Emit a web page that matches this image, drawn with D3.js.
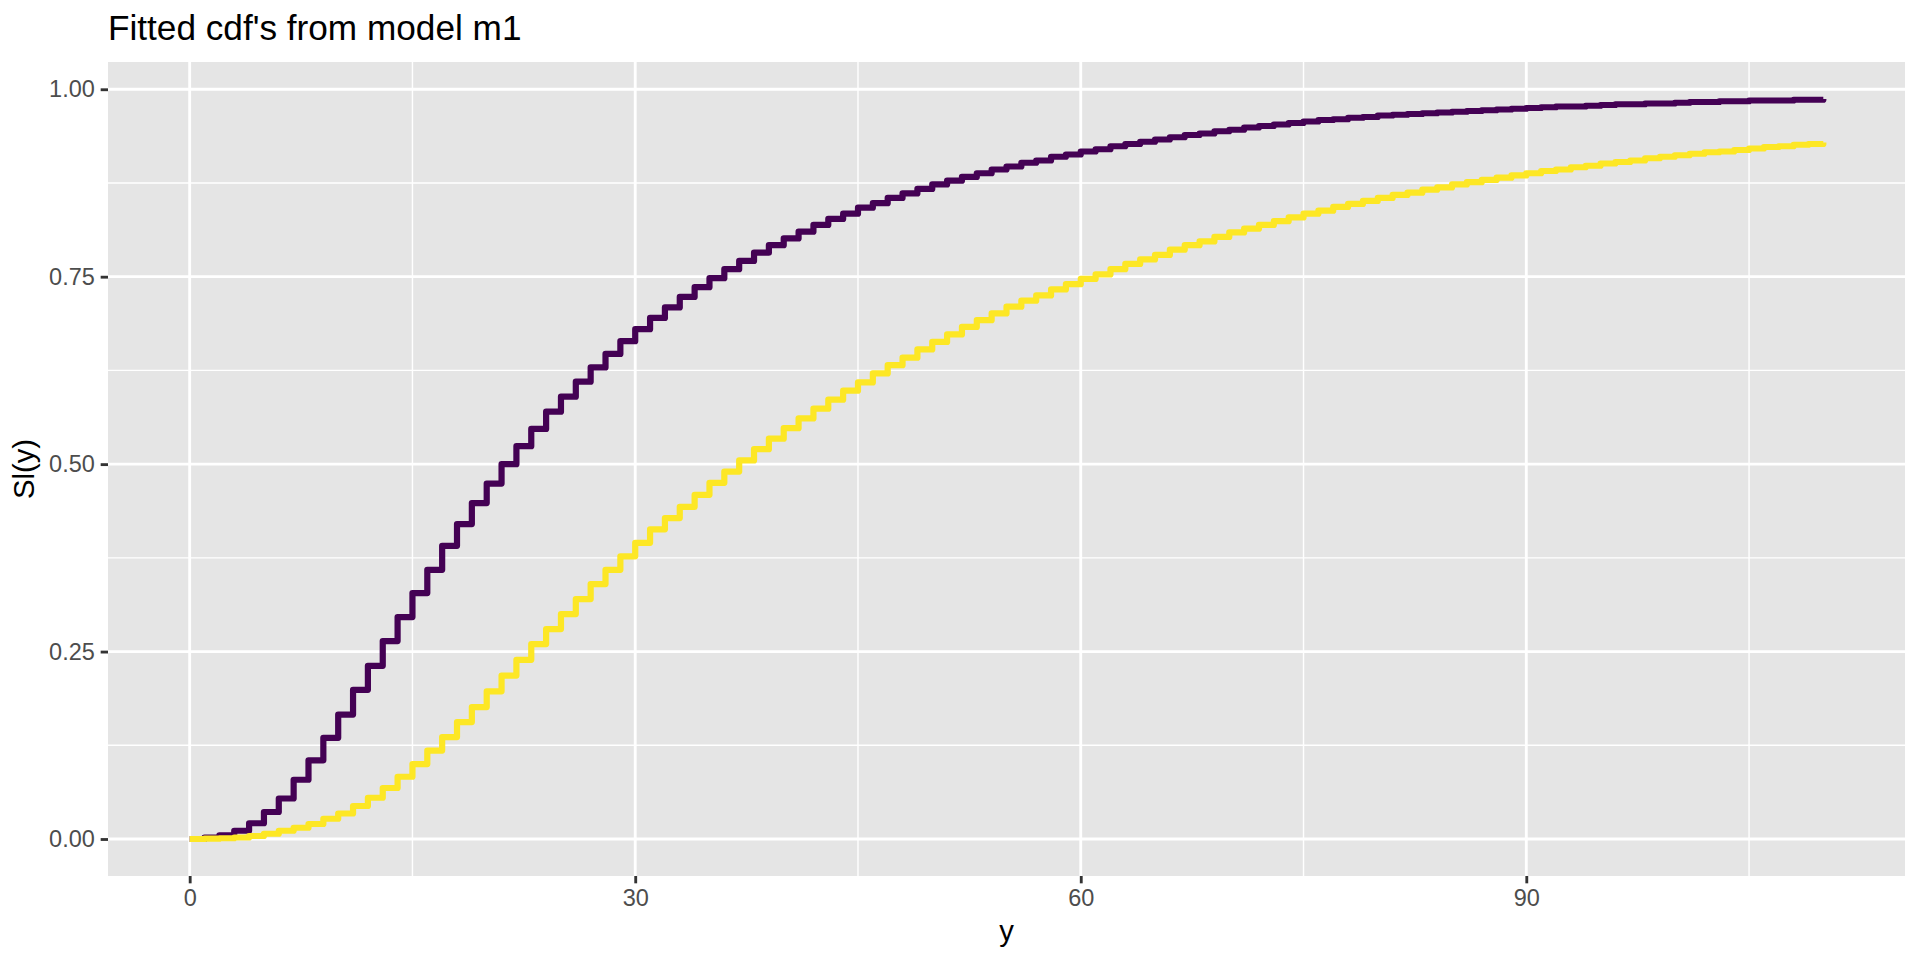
<!DOCTYPE html>
<html>
<head>
<meta charset="utf-8">
<script src="https://cdn.jsdelivr.net/npm/d3@7"></script>
<style>
  html, body { margin: 0; padding: 0; background: #ffffff; }
  #canvas { width: 1920px; height: 960px; }
  text { font-family: "Liberation Sans", Arial, Helvetica, sans-serif; }
</style>
</head>
<body>
<div id="canvas" class="canvas"></div>
<script>
// ---- DATA ----
var chartTitle = "Fitted cdf's from model m1";
var xTitle = 'y';
var yTitle = 'Sl(y)';

var xBreaks = [0, 30, 60, 90];
var xMinor = [15, 45, 75, 105];
var yBreaks = [0, 0.25, 0.5, 0.75, 1];
var yMinor = [0.125, 0.375, 0.625, 0.875];

// step positions, y = 0 ... 110
var yGrid = d3.range(0, 111);

// one value per step
var cdfDark = [
  0.000, 0.002, 0.005, 0.011, 0.021, 0.036, 0.054, 0.079, 0.105, 0.135,
  0.166, 0.199, 0.231, 0.264, 0.296, 0.328, 0.359, 0.391, 0.420, 0.448,
  0.474, 0.500, 0.524, 0.547, 0.570, 0.590, 0.610, 0.629, 0.647, 0.664,
  0.680, 0.695, 0.709, 0.723, 0.736, 0.748, 0.760, 0.771, 0.782, 0.792,
  0.801, 0.810, 0.819, 0.827, 0.834, 0.842, 0.848, 0.855, 0.861, 0.867,
  0.873, 0.878, 0.883, 0.888, 0.893, 0.897, 0.902, 0.905, 0.910, 0.913,
  0.917, 0.920, 0.924, 0.927, 0.930, 0.933, 0.936, 0.939, 0.941, 0.944,
  0.946, 0.949, 0.951, 0.953, 0.955, 0.957, 0.959, 0.960, 0.962, 0.963,
  0.965, 0.966, 0.967, 0.968, 0.969, 0.970, 0.971, 0.972, 0.973, 0.974,
  0.975, 0.976, 0.977, 0.977, 0.978, 0.979, 0.980, 0.980, 0.981, 0.981,
  0.982, 0.983, 0.983, 0.984, 0.984, 0.985, 0.985, 0.985, 0.986, 0.986,
  0.987
];

var cdfYellow = [
  0.000, 0.0005, 0.001, 0.002, 0.004, 0.007, 0.011, 0.015, 0.020, 0.027,
  0.034, 0.044, 0.055, 0.068, 0.083, 0.100, 0.118, 0.136, 0.156, 0.176,
  0.197, 0.218, 0.239, 0.260, 0.280, 0.300, 0.320, 0.340, 0.359, 0.377,
  0.395, 0.413, 0.428, 0.443, 0.459, 0.475, 0.490, 0.505, 0.520, 0.534,
  0.548, 0.561, 0.574, 0.586, 0.598, 0.609, 0.621, 0.632, 0.642, 0.653,
  0.663, 0.673, 0.683, 0.692, 0.701, 0.710, 0.718, 0.725, 0.733, 0.740,
  0.747, 0.753, 0.760, 0.767, 0.773, 0.779, 0.786, 0.792, 0.797, 0.803,
  0.809, 0.814, 0.819, 0.824, 0.829, 0.834, 0.838, 0.843, 0.847, 0.851,
  0.855, 0.859, 0.862, 0.866, 0.869, 0.873, 0.876, 0.879, 0.882, 0.885,
  0.888, 0.891, 0.893, 0.896, 0.898, 0.901, 0.903, 0.905, 0.908, 0.910,
  0.912, 0.914, 0.916, 0.917, 0.919, 0.921, 0.923, 0.924, 0.926, 0.927,
  0.929
];

var seriesColors = ['#440154', '#FDE725'];


// ---- CONVENTIONS ----
var margin = {top: 62, right: 15, bottom: 84, left: 108};

var outerWidth = 1920,
    outerHeight = 960;

var width = outerWidth - margin.left - margin.right,
    height = outerHeight - margin.top - margin.bottom;

var svg = d3.select('.canvas')
    .append('svg')
    .attr('width', outerWidth)
    .attr('height', outerHeight);

var plot = svg.append('g')
    .attr('transform', 'translate(' + margin.left + ',' + margin.top + ')');


// ---- SCALES ----
// ggplot style: 5% padding on each side of the data range
var xExt = d3.extent(yGrid);
var xPad = (xExt[1] - xExt[0]) * 0.05;
var scaleX = d3.scaleLinear()
    .domain([xExt[0] - xPad, xExt[1] + xPad])
    .range([0, width]);

var yExt = d3.extent(cdfDark.concat(cdfYellow));
var yPad = (yExt[1] - yExt[0]) * 0.05;
var scaleY = d3.scaleLinear()
    .domain([yExt[0] - yPad, yExt[1] + yPad])
    .range([height, 0]);


// ---- PANEL + GRID ----
plot.append('rect')
    .attr('width', width)
    .attr('height', height)
    .style('fill', '#E5E5E5');

plot.selectAll('.grid-minor-x')
    .data(xMinor)
    .enter().append('line')
    .attr('x1', function(d){ return scaleX(d); })
    .attr('x2', function(d){ return scaleX(d); })
    .attr('y1', 0).attr('y2', height)
    .style('stroke', '#fff').style('stroke-width', 1.42);

plot.selectAll('.grid-minor-y')
    .data(yMinor)
    .enter().append('line')
    .attr('y1', function(d){ return scaleY(d); })
    .attr('y2', function(d){ return scaleY(d); })
    .attr('x1', 0).attr('x2', width)
    .style('stroke', '#fff').style('stroke-width', 1.42);

plot.selectAll('.grid-major-x')
    .data(xBreaks)
    .enter().append('line')
    .attr('x1', function(d){ return scaleX(d); })
    .attr('x2', function(d){ return scaleX(d); })
    .attr('y1', 0).attr('y2', height)
    .style('stroke', '#fff').style('stroke-width', 2.85);

plot.selectAll('.grid-major-y')
    .data(yBreaks)
    .enter().append('line')
    .attr('y1', function(d){ return scaleY(d); })
    .attr('y2', function(d){ return scaleY(d); })
    .attr('x1', 0).attr('x2', width)
    .style('stroke', '#fff').style('stroke-width', 2.85);


// ---- LINES ----
var lineGenerator = d3.line()
    .x(function(d){ return scaleX(d.x); })
    .y(function(d){ return scaleY(d.v); })
    .curve(d3.curveStepAfter);

[cdfDark, cdfYellow].forEach(function(values, i){
    var rows = yGrid.map(function(x, j){ return {x: x, v: values[j]}; });
    plot.append('path')
        .datum(rows)
        .attr('d', lineGenerator)
        .style('fill', 'none')
        .style('stroke', seriesColors[i])
        .style('stroke-width', 6.2)
        .style('stroke-linejoin', 'round');
});


//---- AXES ----
var axisX = d3.axisBottom(scaleX)
    .tickValues(xBreaks)
    .tickFormat(d3.format('d'))
    .tickSize(7.33)
    .tickPadding(5.87);

var axisY = d3.axisLeft(scaleY)
    .tickValues(yBreaks)
    .tickFormat(d3.format('.2f'))
    .tickSize(7.33)
    .tickPadding(5.87);

var gx = plot.append('g').attr('class', 'axis axis-x')
    .attr('transform', 'translate(0,' + height + ')')
    .call(axisX);

var gy = plot.append('g').attr('class', 'axis axis-y')
    .call(axisY);

[gx, gy].forEach(function(g){
    g.select('.domain').remove();
    g.selectAll('.tick line').style('stroke', '#333333').style('stroke-width', 2.85);
    g.selectAll('.tick text')
        .style('fill', '#4D4D4D')
        .style('font-size', '23.5px')
        .style('font-family', '"Liberation Sans", Arial, sans-serif');
});


// ---- TITLES ----
svg.append('text')
    .attr('x', margin.left)
    .attr('y', 39.5)
    .style('font-size', '35.2px')
    .style('fill', '#000')
    .text(chartTitle);

svg.append('text')
    .attr('x', margin.left + width / 2)
    .attr('y', 941)
    .attr('text-anchor', 'middle')
    .style('font-size', '29.3px')
    .style('fill', '#000')
    .text(xTitle);

svg.append('text')
    .attr('transform', 'translate(34,' + (margin.top + height / 2) + ') rotate(-90)')
    .attr('text-anchor', 'middle')
    .style('font-size', '29.3px')
    .style('fill', '#000')
    .text(yTitle);
</script>
</body>
</html>
